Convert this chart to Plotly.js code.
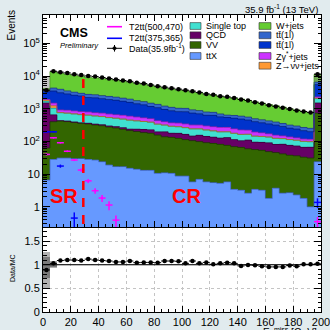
<!DOCTYPE html>
<html><head><meta charset="utf-8">
<script src="https://cdn.plot.ly/plotly-3.0.1.min.js"></script>
<style>html,body{margin:0;padding:0;background:#e1ebee;}#plot{width:330px;height:330px;}</style>
</head><body><div id="plot"></div>
<script>
// ---------- data ----------
const binCenters = [2.5,7.5,12.5,17.5,22.5,27.5,32.5,37.5,42.5,47.5,52.5,57.5,62.5,67.5,72.5,77.5,82.5,87.5,92.5,97.5,102.5,107.5,112.5,117.5,122.5,127.5,132.5,137.5,142.5,147.5,152.5,157.5,162.5,167.5,172.5,177.5,182.5,187.5,192.5,197.5];
const binWidth = 5;
const cutX = 29;

const ttX = [6.6,28,31,31,30,30,28,27,24,19,17,17,15,14,13,13,10.5,11,10.5,8.7,8.7,5.8,6.9,5.8,5.5,5.2,5.8,3.4,3.2,2.6,3.4,3.2,1.8,3.7,2.6,2.7,2.3,1.8,1.0,24];
const VV = [56,373,390,375,349,328,313,291,278,256,240,217,200,187,174,164,146,128,122,115,105,100,92,86,81,76,70,66,62,57,53,50,47,42,39,35,34,31,30,706];
const QCD = [1434,250,12,14,15,13,18,20,24,22,28,30,22,35,45,50,40,58,45,53,50,40,55,50,48,45,56,45,40,50,38,40,42,35,40,38,36,33,35,767];
const singleTop = [200,380,325,310,300,288,275,262,250,238,226,218,210,190,175,160,140,119,112,105,100,96,88,82,76,70,65,62,58,55,50,48,45,43,40,38,36,34,32,550];
const Znunu = [150,200,5,5,4,4,4,3,3,3,3,2,2,2,2,2,2,1.5,1.5,1.5,1.2,1.2,1,1,1,1,1,1,1,0.8,0.8,0.8,0.7,0.7,0.6,0.6,0.6,0.5,0.5,60];
const Zgamma = [80,250,157,160,160,161,158,155,152,150,146,143,140,130,120,110,95,84,80,80,78,75,74,72,71,70,70,66,60,55,48,42,35,30,26,23,20,18,17,200];
const ttbarDark = [1400,2000,2170,1945,1732,1631,1414,1403,1303,1225,1158,1068,977,865,792,674,645,550,496,451,467,418,383,334,344,297,273,269,259,230,209,188,172,162,138,117,110,95,83,3200];
const ttbarLight = [250,820,850,680,620,510,540,530,500,470,445,415,400,356,337,306,281,254,236,220,216,192,184,163,150,130,97,110,110,105,95,90,82,75,68,62,57,54,53,1000];
const Wjets = [580,9390,8170,7840,7150,6855,6270,6130,5770,5430,5160,4810,4420,4150,3960,3620,3330,3020,2840,2670,2570,2270,2180,1910,1850,1660,1570,1470,1380,1245,1113,1028,924,849,766,679,624,551,512,4680];

const dataCounts = [3700,14100,13200,12500,11400,10700,10100,9700,9050,8440,7870,7330,6900,6200,5900,5350,4900,4570,4260,3980,3710,3460,3160,2850,2660,2430,2310,2150,1920,1790,1590,1450,1290,1180,1070,980,890,826,771,11400];
const ratio = [0.89,1.03,1.09,1.10,1.10,1.09,1.12,1.10,1.09,1.08,1.06,1.06,1.08,1.045,1.05,1.05,1.045,1.08,1.08,1.075,1.03,1.08,1.03,1.05,1.01,1.03,1.045,1.03,0.975,0.995,0.99,0.97,0.955,0.955,0.955,0.985,0.97,1.01,1.01,1.02];
const ratioErr = [0.02,0.01,0.01,0.01,0.01,0.01,0.01,0.01,0.012,0.012,0.012,0.012,0.013,0.013,0.014,0.014,0.015,0.016,0.016,0.017,0.018,0.018,0.019,0.02,0.021,0.022,0.022,0.023,0.024,0.025,0.026,0.027,0.028,0.03,0.031,0.032,0.034,0.035,0.036,0.012];

const ratioBandLo = [0.51,0.94,0.985,0.985,0.985,0.985,0.985,0.985,0.985,0.985,0.985,0.985,0.985,0.985,0.985,0.985,0.985,0.985,0.985,0.985,0.985,0.985,0.985,0.985,0.985,0.985,0.985,0.985,0.985,0.985,0.985,0.985,0.985,0.985,0.985,0.985,0.985,0.985,0.985,0.985];
const ratioBandHi = [1.28,1.07,1.015,1.015,1.015,1.015,1.015,1.015,1.015,1.015,1.015,1.015,1.015,1.015,1.015,1.015,1.015,1.015,1.015,1.015,1.015,1.015,1.015,1.015,1.015,1.015,1.015,1.015,1.015,1.015,1.015,1.015,1.015,1.015,1.015,1.015,1.015,1.015,1.015,1.015];
const ratioInnerLo = [0.71,0.96].concat(Array(38).fill(null));
const ratioInnerHi = [1.17,1.04].concat(Array(38).fill(null));

const mcUncUp = [1.4,0.03,0.025,0.025,0.025,0.025,0.025,0.025,0.025,0.025,0.025,0.025,0.025,0.025,0.025,0.025,0.025,0.025,0.025,0.025,0.025,0.025,0.025,0.025,0.025,0.025,0.025,0.025,0.025,0.025,0.025,0.025,0.025,0.025,0.025,0.025,0.025,0.025,0.025,0.1];
const mcUncDown = [0.2,0.03,0.025,0.025,0.025,0.025,0.025,0.025,0.025,0.025,0.025,0.025,0.025,0.025,0.025,0.025,0.025,0.025,0.025,0.025,0.025,0.025,0.025,0.025,0.025,0.025,0.025,0.025,0.025,0.025,0.025,0.025,0.025,0.025,0.025,0.025,0.025,0.025,0.025,0.4];

const T2tt500 = [40,129,91,50,27,13.3,6.2,3.1,1.85,1.13,0.39].concat(Array(28).fill(null)).concat([0.35]);
const T2tt500err = [3,5,4,3,2,1.5,0.9,0.6,0.45,0.35,0.15].concat(Array(28).fill(null)).concat([0.14]);
const T2tt375 = [196,196,17.6,null,0.45].concat(Array(34).fill(null)).concat([1.36]);
const T2tt375err = [6,6,2,null,0.22].concat(Array(34).fill(null)).concat([0.45]);

// ---------- drawing ----------
const F = 'Liberation Sans, Arial, Helvetica, sans-serif';
const layers = [
  {v: ttX, color:'#6699ff', edge:'#3f62b8'},
  {v: VV, color:'#336600', edge:'#1c3a00'},
  {v: QCD, color:'#660066', edge:'#3a003a'},
  {v: singleTop, color:'#40e0d0', edge:'#23958a'},
  {v: Znunu, color:'#ff9933', edge:'#b36b24'},
  {v: Zgamma, color:'#cc33ff', edge:'#8a22ad'},
  {v: ttbarDark, color:'#0033cc', edge:'#001f80'},
  {v: ttbarLight, color:'#3366cc', edge:'#1f3d7a'},
  {v: Wjets, color:'#66cc33', edge:'#4a9622'}
];
const n = binCenters.length;
const edges = binCenters.map(c => c - binWidth/2).concat([binCenters[n-1] + binWidth/2]);
const traces = [];
const cum = new Array(n).fill(0);
const cumList = [];
layers.forEach(l => {
  traces.push({type:'bar', x:binCenters, y:l.v, width:binWidth, xaxis:'x2', yaxis:'y2',
    marker:{color:l.color, line:{width:0}}, hoverinfo:'skip', showlegend:false});
  for (let i=0;i<n;i++) cum[i] += l.v[i];
  cumList.push({c: cum.slice(), edge:l.edge});
});
cumList.forEach(o => {
  traces.push({type:'scatter', mode:'lines', x:edges, y:o.c.concat([o.c[n-1]]), xaxis:'x2', yaxis:'y2',
    line:{shape:'hv', color:o.edge, width:0.8}, hoverinfo:'skip', showlegend:false});
});
const total = cum.slice();
const bandLo = total.map((t,i) => t*(1-mcUncDown[i]));
const bandH = total.map((t,i) => t*(mcUncUp[i]+mcUncDown[i]));
traces.push({type:'bar', x:binCenters, base:bandLo, y:bandH, width:binWidth, xaxis:'x2', yaxis:'y2',
  marker:{color:'rgba(120,120,120,0.45)', line:{width:0}}, hoverinfo:'skip', showlegend:false});

// signals
traces.push({type:'scatter', mode:'markers', x:binCenters, y:T2tt500, xaxis:'x2', yaxis:'y2',
  marker:{size:1, color:'#ff00ff'},
  error_x:{type:'constant', value:binWidth/2, thickness:1.5, width:0, color:'#ff00ff'},
  error_y:{type:'data', array:T2tt500err, thickness:1.5, width:0, color:'#ff00ff'}, showlegend:false, hoverinfo:'skip'});
traces.push({type:'scatter', mode:'markers', x:binCenters, y:T2tt375, xaxis:'x2', yaxis:'y2',
  marker:{size:1, color:'#0000ff'},
  error_x:{type:'constant', value:binWidth/2, thickness:1.5, width:0, color:'#0000ff'},
  error_y:{type:'data', array:T2tt375err, thickness:1.5, width:0, color:'#0000ff'}, showlegend:false, hoverinfo:'skip'});
// data
traces.push({type:'scatter', mode:'markers', x:binCenters, y:dataCounts, xaxis:'x2', yaxis:'y2',
  marker:{size:4.5, color:'#000'},
  error_x:{type:'constant', value:binWidth/2, thickness:1, width:0, color:'#000'}, showlegend:false, hoverinfo:'skip'});

// ratio panel
traces.push({type:'bar', x:binCenters, base:ratioBandLo, y:ratioBandHi.map((h,i)=>h-ratioBandLo[i]), width:binWidth,
  xaxis:'x', yaxis:'y', marker:{color:'rgba(150,150,150,0.75)', line:{width:0}}, hoverinfo:'skip', showlegend:false});
traces.push({type:'bar', x:binCenters, base:ratioInnerLo, y:ratioInnerHi.map((h,i)=>h===null?null:h-ratioInnerLo[i]), width:binWidth,
  xaxis:'x', yaxis:'y', marker:{color:'rgba(100,100,100,0.7)', line:{width:0}}, hoverinfo:'skip', showlegend:false});
traces.push({type:'scatter', mode:'markers', x:binCenters, y:ratio, xaxis:'x', yaxis:'y',
  marker:{size:4.5, color:'#000'},
  error_x:{type:'constant', value:binWidth/2, thickness:1, width:0, color:'#000'},
  error_y:{type:'data', array:ratioErr, thickness:1, width:0, color:'#000'}, showlegend:false, hoverinfo:'skip'});

// ---------- layout helpers (pixel -> paper) ----------
const L=43, R=321, T=15, B=312;
const px = x => (x-L)/(R-L);
const py = y => (B-y)/(B-T);
const split = py(227);

const shapes = [];
const annotations = [];
// cut line
shapes.push({type:'line', xref:'x2', yref:'paper', x0:cutX, x1:cutX, y0:py(79), y1:split,
  line:{color:'#ff0000', width:2.5, dash:'9px,8px'}, layer:'above'});
// ratio unity line
shapes.push({type:'line', xref:'x', yref:'y', x0:0, x1:200, y0:1, y1:1, line:{color:'#000', width:1}, layer:'above'});

// legend
function legText(x, y, t){ annotations.push({xref:'paper', yref:'paper', x:px(x), y:py(y), xanchor:'left', yanchor:'middle', text:t, showarrow:false, font:{family:F, size:9, color:'#000'}}); }
function legBox(x0, x1, y, color){ shapes.push({type:'rect', xref:'paper', yref:'paper', x0:px(x0), x1:px(x1), y0:py(y+3.4), y1:py(y-3.4), fillcolor:color, line:{color:'#333', width:0.6}}); }
function legLine(y, color){ shapes.push({type:'line', xref:'paper', yref:'paper', x0:px(107), x1:px(122), y0:py(y), y1:py(y), line:{color:color, width:1.6}}); }
legLine(26.7, '#ff00ff'); legText(127, 26.7, 'T2tt(500,470)');
legLine(38.3, '#0000ff'); legText(127, 38.3, 'T2tt(375,365)');
shapes.push({type:'line', xref:'paper', yref:'paper', x0:px(107), x1:px(122), y0:py(48.3), y1:py(48.3), line:{color:'#000', width:1}});
shapes.push({type:'line', xref:'paper', yref:'paper', x0:px(114.5), x1:px(114.5), y0:py(45), y1:py(51.6), line:{color:'#000', width:1}});
shapes.push({type:'circle', xref:'paper', yref:'paper', x0:px(112.8), x1:px(116.2), y0:py(50), y1:py(46.6), fillcolor:'#000', line:{color:'#000', width:0.5}});
legText(127, 48.3, 'Data(35.9fb<sup>-1</sup>)');

legBox(190, 201, 26, '#40e0d0'); legText(204, 26, 'Single top');
legBox(190, 201, 35.3, '#660066'); legText(204, 35.3, 'QCD');
legBox(190, 201, 45, '#336600'); legText(204, 45, 'VV');
legBox(190, 201, 56, '#6699ff'); legText(204, 56, 'ttX');

legBox(259, 271, 26, '#66cc33'); legText(274, 26, 'W+jets');
legBox(259, 271, 35.3, '#3366cc'); legText(274, 35.3, 'tt\u0304(1l)');
legBox(259, 271, 45, '#0033cc'); legText(274, 45, 'tt\u0304(1l)');
legBox(259, 271, 56, '#cc33ff'); legText(274, 56, 'Z\u03b3<sup>*</sup>+jets');
legBox(259, 271, 65.7, '#ff9933'); legText(274, 65.7, 'Z\u2192\u03bd\u03bd+jets');

// texts
annotations.push({xref:'paper', yref:'paper', x:px(74), y:py(32.5), text:'<b>CMS</b>', showarrow:false, xanchor:'center', yanchor:'middle', font:{family:F, size:12.5, color:'#000'}});
annotations.push({xref:'paper', yref:'paper', x:px(79), y:py(45), text:'<i>Preliminary</i>', showarrow:false, xanchor:'center', yanchor:'middle', font:{family:F, size:7.6, color:'#000'}});
annotations.push({xref:'paper', yref:'paper', x:px(63.5), y:py(195.5), text:'<b>SR</b>', showarrow:false, xanchor:'center', yanchor:'middle', font:{family:F, size:20, color:'#ff0000'}});
annotations.push({xref:'paper', yref:'paper', x:px(186), y:py(195.5), text:'<b>CR</b>', showarrow:false, xanchor:'center', yanchor:'middle', font:{family:F, size:20, color:'#ff0000'}});
annotations.push({xref:'paper', yref:'paper', x:px(320), y:py(9), text:'35.9 fb<sup>-1</sup> (13 TeV)', showarrow:false, xanchor:'right', yanchor:'middle', font:{family:F, size:9.5, color:'#000'}});
annotations.push({xref:'paper', yref:'paper', x:px(11.5), y:py(25), text:'Events', textangle:-90, showarrow:false, xanchor:'center', yanchor:'middle', font:{family:F, size:10, color:'#000'}});
annotations.push({xref:'paper', yref:'paper', x:px(12), y:py(268), text:'Data/MC', textangle:-90, showarrow:false, xanchor:'center', yanchor:'middle', font:{family:F, size:7, color:'#000'}});
annotations.push({xref:'paper', yref:'paper', x:px(319), y:py(324), text:'E<sub>T</sub><sup>miss</sup> [GeV]', showarrow:false, xanchor:'right', yanchor:'top', font:{family:F, size:10, color:'#000'}});

const tickCommon = {ticks:'inside', tickcolor:'#000', tickwidth:1, showline:true, linecolor:'#000', linewidth:1, zeroline:false};
const layout = {
  width:330, height:330,
  margin:{l:L, r:330-R, t:T, b:330-B, pad:0},
  paper_bgcolor:'#e1ebee', plot_bgcolor:'#ffffff',
  barmode:'stack', bargap:0, showlegend:false,
  font:{family:F, color:'#000'},
  xaxis:Object.assign({}, tickCommon, {domain:[0,1], anchor:'y', range:[0,200], tickmode:'array',
    tickvals:[0,20,40,60,80,100,120,140,160,180,200], ticktext:['0','20','40','60','80','100','120','140','160','180','200'], ticklen:6,
    ticklabeloverflow:'allow',
    minor:{dtick:5, tick0:0, ticks:'inside', ticklen:3, tickcolor:'#000', showgrid:false},
    mirror:true, showgrid:true, gridcolor:'#c4c4c4', griddash:'dot', gridwidth:1, tickfont:{family:F, size:11}}),
  yaxis:Object.assign({}, tickCommon, {domain:[0,split], anchor:'x', range:[0,1.8], tickmode:'array', tickvals:[0,0.5,1,1.5], ticktext:['0','0.5','1','1.5'], ticklen:7,
    minor:{dtick:0.1, tick0:0, ticks:'inside', ticklen:3.5, tickcolor:'#000', showgrid:false},
    mirror:'ticks', showgrid:true, gridcolor:'#c4c4c4', griddash:'dot', gridwidth:1, tickfont:{family:F, size:11}}),
  xaxis2:Object.assign({}, tickCommon, {domain:[0,1], anchor:'y2', matches:'x', range:[0,200], tickmode:'linear', tick0:0, dtick:20, ticklen:6,
    minor:{dtick:5, tick0:0, ticks:'inside', ticklen:3, tickcolor:'#000'},
    mirror:'ticks', showticklabels:false, showgrid:false}),
  yaxis2:Object.assign({}, tickCommon, {domain:[split,1], anchor:'x2', type:'log', range:[-0.62,5.87], tickmode:'array',
    tickvals:[1,10,100,1000,10000,100000], ticktext:['1','10','10<sup>2</sup>','10<sup>3</sup>','10<sup>4</sup>','10<sup>5</sup>'], ticklen:7,
    minor:{dtick:'D1', ticks:'inside', ticklen:3.5, tickcolor:'#000'},
    mirror:'ticks', showgrid:false, tickfont:{family:F, size:11}}),
  shapes:shapes, annotations:annotations
};
Plotly.newPlot('plot', traces, layout, {staticPlot:true, displayModeBar:false});
</script></body></html>
